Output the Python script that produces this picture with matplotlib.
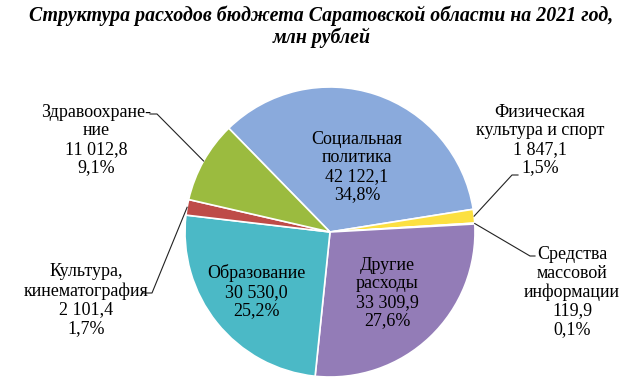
import numpy as np
import matplotlib.pyplot as plt

# budget structure, mln rub (clockwise from the top-left edge)
categories = ["Социальная\nполитика", "Физическая\nкультура и спорт",
              "Средства\nмассовой\nинформации", "Другие\nрасходы",
              "Образование", "Культура,\nкинематография", "Здравоохране-\nние"]
values = [42122.1, 1847.1, 119.9, 33309.9, 30530.0, 2101.4, 11012.8]
shares = [34.8, 1.5, 0.1, 27.6, 25.2, 1.7, 9.1]
colors = ["#8AAADC", "#FCE041", "#E8E8E8", "#937CB7", "#4BB9C6", "#BE4B48", "#9BBB3F"]

W, H = 643, 379
fig = plt.figure(figsize=(W / 100, H / 100), dpi=100)
ax = fig.add_axes([0, 0, 1, 1])

cx, cy, r = 330, H - 232, 145
wedges, _ = ax.pie(values, colors=colors, startangle=134.3, counterclock=False,
                   center=(cx, cy), radius=r, frame=True,
                   wedgeprops=dict(edgecolor="white", linewidth=1.2))
ax.set_xlim(0, W)
ax.set_ylim(0, H)
ax.set_aspect("equal")
ax.axis("off")


def fmt(v):
    return f"{v:,.1f}".replace(",", " ").replace(".", ",")


def label(i):
    return f"{categories[i]}\n{fmt(values[i])}\n{shares[i]:.1f}%".replace(".", ",")


font = dict(family="Liberation Serif", fontsize=13, ha="center", va="center",
            linespacing=1.12)

# label centres (x, y in pixels from top)
pos = {0: (357, 167), 1: (540, 140), 2: (572, 292), 3: (387, 293),
       4: (256, 292), 5: (86, 300), 6: (96, 140)}
for i, (x, y) in pos.items():
    ax.text(x, H - y, label(i), **font)


def edge_point(i):
    w = wedges[i]
    a = np.deg2rad((w.theta1 + w.theta2) / 2)
    return cx + r * np.cos(a), cy + r * np.sin(a)


# leader lines for outside labels
leaders = {1: [(518, 175), (512, 175)], 2: [(535, 256), (530, 256)],
           5: [(142, 293), (152, 293)], 6: [(150, 114), (157, 114)]}
for i, pts in leaders.items():
    ex, ey = edge_point(i)
    xs = [p[0] for p in pts] + [ex]
    ys = [H - p[1] for p in pts] + [ey]
    ax.plot(xs, ys, color="#222222", lw=0.8)

fig.text(0.5, 1 - 27 / H, "Структура расходов бюджета Саратовской области на 2021 год,\nмлн рублей",
         ha="center", va="center", family="Liberation Serif", fontsize=14.3,
         fontweight="bold", style="italic", linespacing=1.1)

fig.savefig("out.png", dpi=100)
